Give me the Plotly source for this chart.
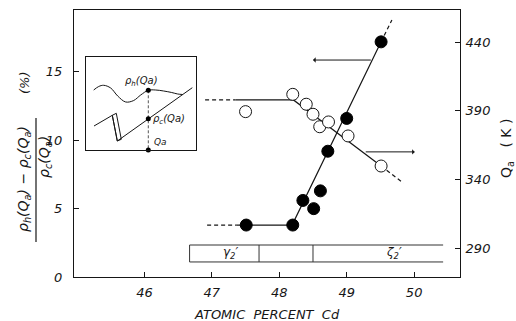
import plotly.graph_objects as go

# ---------------- data ----------------
x_ticks = [46, 47, 48, 49, 50]
left_ticks = [0, 5, 10, 15]
right_ticks = [290, 340, 390, 440]

# filled circles: resistivity difference (%) -> left axis
filled_x = [47.51, 48.20, 48.35, 48.51, 48.61, 48.72, 49.00, 49.51]
filled_y = [3.8, 3.8, 5.6, 5.0, 6.3, 9.2, 11.6, 17.2]

# open circles: Qa (K) -> right axis
open_x = [47.50, 48.20, 48.40, 48.50, 48.60, 48.73, 49.02, 49.51]
open_q = [389.3, 401.9, 394.7, 387.4, 378.3, 381.8, 371.6, 349.7]

# guide lines
filled_dash1_x = [46.93, 47.37]
filled_dash1_y = [3.8, 3.8]
filled_solid_x = [47.37, 48.19, 49.51]
filled_solid_y = [3.8, 3.8, 17.2]
filled_dash2_x = [49.51, 49.67]
filled_dash2_y = [17.2, 18.8]

open_dash1_x = [46.90, 47.35]
open_dash1_q = [397.8, 397.8]
open_solid_x = [47.35, 48.21, 49.51]
open_solid_q = [397.8, 397.8, 349.7]
open_dash2_x = [49.51, 49.84]
open_dash2_q = [349.7, 337.3]

# arrows (tail -> head)
arrow_left_x = [49.38, 48.50]
arrow_left_y = [15.87, 15.87]
arrow_right_x = [49.26, 50.01]
arrow_right_q = [360.0, 360.0]

# phase bar
phase_edges = [46.67, 47.70, 48.50, 50.43]
phase_band = [1.10, 2.34]
phase_labels = ["γ<sub>2</sub>′", "ζ<sub>2</sub>′"]
phase_label_x = [47.27, 49.70]

# inset schematic (arbitrary units)
rho_h_x = [8, 13, 18, 25, 32, 40, 48, 55, 62.6, 70, 78, 86, 92, 97]
rho_h_y = [60, 63.5, 64.7, 62, 54, 48, 49.5, 55, 59.7, 60, 59, 57.5, 56, 55.5]
rho_c_x = [8.3, 26.6, 31.6, 106.6]
rho_c_y = [24, 34.7, 9, 62.3]
zig_x = [26.6, 30.6, 35.6, 31.6, 26.6]
zig_y = [34.7, 36.7, 10.7, 9, 34.7]
qa_x = 62.6
dots_y = [59.7, 31.3, 0]

# ---------------- layout geometry ----------------
W, H = 516, 321
L, R, T, B = 74, 460, 10, 277
PW, PH = R - L, B - T


def px(x):
    return (x - L) / PW


def py(y):
    return (B - y) / PH


FONT = "DejaVu Sans"
INK = "#161616"

fig = go.Figure()

line_style = dict(color=INK, width=1.2)
dash_style = dict(color=INK, width=1.2, dash="4px,3px")

# filled series lines
fig.add_trace(go.Scatter(x=filled_dash1_x, y=filled_dash1_y, mode="lines", line=dash_style, yaxis="y"))
fig.add_trace(go.Scatter(x=filled_solid_x, y=filled_solid_y, mode="lines", line=line_style, yaxis="y"))
fig.add_trace(go.Scatter(x=filled_dash2_x, y=filled_dash2_y, mode="lines", line=dash_style, yaxis="y"))
# open series lines
fig.add_trace(go.Scatter(x=open_dash1_x, y=open_dash1_q, mode="lines", line=dash_style, yaxis="y2"))
fig.add_trace(go.Scatter(x=open_solid_x, y=open_solid_q, mode="lines", line=line_style, yaxis="y2"))
fig.add_trace(go.Scatter(x=open_dash2_x, y=open_dash2_q, mode="lines", line=dash_style, yaxis="y2"))

# markers
fig.add_trace(go.Scatter(x=open_x, y=open_q, mode="markers", yaxis="y2",
                         marker=dict(size=12, color="white", line=dict(color=INK, width=1))))
fig.add_trace(go.Scatter(x=filled_x, y=filled_y, mode="markers", yaxis="y",
                         marker=dict(size=12, color="black", line=dict(color="black", width=1))))

# inset traces
fig.add_trace(go.Scatter(x=rho_h_x, y=rho_h_y, mode="lines", xaxis="x3", yaxis="y3",
                         line=dict(color=INK, width=1, shape="spline", smoothing=1.0)))
fig.add_trace(go.Scatter(x=rho_c_x, y=rho_c_y, mode="lines", xaxis="x3", yaxis="y3",
                         line=dict(color=INK, width=1)))
fig.add_trace(go.Scatter(x=zig_x, y=zig_y, mode="lines", xaxis="x3", yaxis="y3",
                         line=dict(color=INK, width=1)))
fig.add_trace(go.Scatter(x=[qa_x, qa_x], y=[dots_y[0], dots_y[2]], mode="lines", xaxis="x3", yaxis="y3",
                         line=dict(color="#555", width=1, dash="3px,2px")))
fig.add_trace(go.Scatter(x=[qa_x] * 3, y=dots_y, mode="markers", xaxis="x3", yaxis="y3",
                         cliponaxis=False, marker=dict(size=5, color="black")))

shapes = []
# phase bar
shapes.append(dict(type="line", xref="x", yref="y", x0=phase_edges[0], x1=phase_edges[-1],
                   y0=phase_band[1], y1=phase_band[1], line=dict(color="#333", width=1)))
shapes.append(dict(type="line", xref="x", yref="y", x0=phase_edges[0], x1=phase_edges[-1],
                   y0=phase_band[0], y1=phase_band[0], line=dict(color="#333", width=1)))
for e in phase_edges[:-1]:
    shapes.append(dict(type="line", xref="x", yref="y", x0=e, x1=e,
                       y0=phase_band[0], y1=phase_band[1], line=dict(color="#333", width=1)))
# fraction bar of left label
shapes.append(dict(type="line", xref="paper", yref="paper", x0=px(36), x1=px(36),
                   y0=py(118), y1=py(242), line=dict(color=INK, width=1.2)))

ital = dict(family=FONT, color=INK, style="italic")
C = dict(xanchor="center", yanchor="middle", showarrow=False)

annotations = []
for lab, lx in zip(phase_labels, phase_label_x):
    annotations.append(dict(x=lx, y=sum(phase_band) / 2, xref="x", yref="y", text=lab,
                            font=dict(size=12, **ital), **C))
# arrows
annotations.append(dict(x=arrow_left_x[1], y=arrow_left_y[1], ax=arrow_left_x[0], ay=arrow_left_y[0],
                        xref="x", yref="y", axref="x", ayref="y", text="", showarrow=True,
                        arrowhead=1, arrowsize=0.9, arrowwidth=1, arrowcolor=INK))
annotations.append(dict(x=arrow_right_x[1], y=arrow_right_q[1], ax=arrow_right_x[0], ay=arrow_right_q[0],
                        xref="x", yref="y2", axref="x", ayref="y2", text="", showarrow=True,
                        arrowhead=1, arrowsize=0.9, arrowwidth=1, arrowcolor=INK))
# inset labels
annotations.append(dict(x=55.3, y=69, xref="x3", yref="y3", text="ρ<sub>h</sub>(Qa)",
                        font=dict(size=10, **ital), **C))
annotations.append(dict(x=65, y=31, xref="x3", yref="y3", text="ρ<sub>c</sub>(Qa)", xanchor="left",
                        yanchor="middle", showarrow=False, font=dict(size=10, **ital)))
annotations.append(dict(x=66, y=8, xref="x3", yref="y3", text="Qa", xanchor="left",
                        yanchor="middle", showarrow=False, font=dict(size=9, **ital)))
# left axis label (fraction)
annotations.append(dict(x=px(24), y=py(83), xref="paper", yref="paper", text="(%)", textangle=-90,
                        font=dict(size=13, **ital), **C))
annotations.append(dict(x=px(24), y=py(179), xref="paper", yref="paper",
                        text="ρ<sub>h</sub>(Q<sub>a</sub>) − ρ<sub>c</sub>(Q<sub>a</sub>)", textangle=-90,
                        font=dict(size=14, **ital), **C))
annotations.append(dict(x=px(45), y=py(157), xref="paper", yref="paper",
                        text="ρ<sub>c</sub>(Q<sub>a</sub>)", textangle=-90,
                        font=dict(size=14, **ital), **C))
# right axis label
annotations.append(dict(x=px(507), y=py(149), xref="paper", yref="paper",
                        text="Q<sub>a</sub>   ( K )", textangle=-90,
                        font=dict(size=14, family=FONT, color=INK), **C))
# x axis title
annotations.append(dict(x=px(267), y=py(314), xref="paper", yref="paper",
                        text="ATOMIC  PERCENT  Cd",
                        font=dict(size=13, **ital), **C))

axis_common = dict(showgrid=False, zeroline=False, showline=True, linecolor=INK, linewidth=1,
                   ticks="inside", ticklen=5, tickcolor=INK, tickwidth=1,
                   tickfont=dict(size=13, **ital))

fig.update_layout(
    width=W, height=H,
    margin=dict(l=L, r=W - R, t=T, b=H - B),
    paper_bgcolor="white", plot_bgcolor="white",
    showlegend=False,
    xaxis=dict(range=[44.956, 50.68], tickvals=x_ticks, mirror=True, ticklabelstandoff=3, **axis_common),
    yaxis=dict(range=[0, 19.53], tickvals=left_ticks, mirror=False, ticklabelstandoff=8, **axis_common),
    yaxis2=dict(range=[268.9, 463.3], tickvals=right_ticks, overlaying="y", side="right",
                ticklabelstandoff=2, **axis_common),
    xaxis3=dict(domain=[px(85.7), px(195.7)], range=[0, 110], anchor="y3", showgrid=False, zeroline=False,
                showline=True, mirror=True, linecolor=INK, linewidth=1, showticklabels=False, ticks=""),
    yaxis3=dict(domain=[py(150), py(57)], range=[0, 93], anchor="x3", showgrid=False, zeroline=False,
                showline=True, mirror=True, linecolor=INK, linewidth=1, showticklabels=False, ticks=""),
    shapes=shapes,
    annotations=annotations,
)

fig.write_html("out.html")
